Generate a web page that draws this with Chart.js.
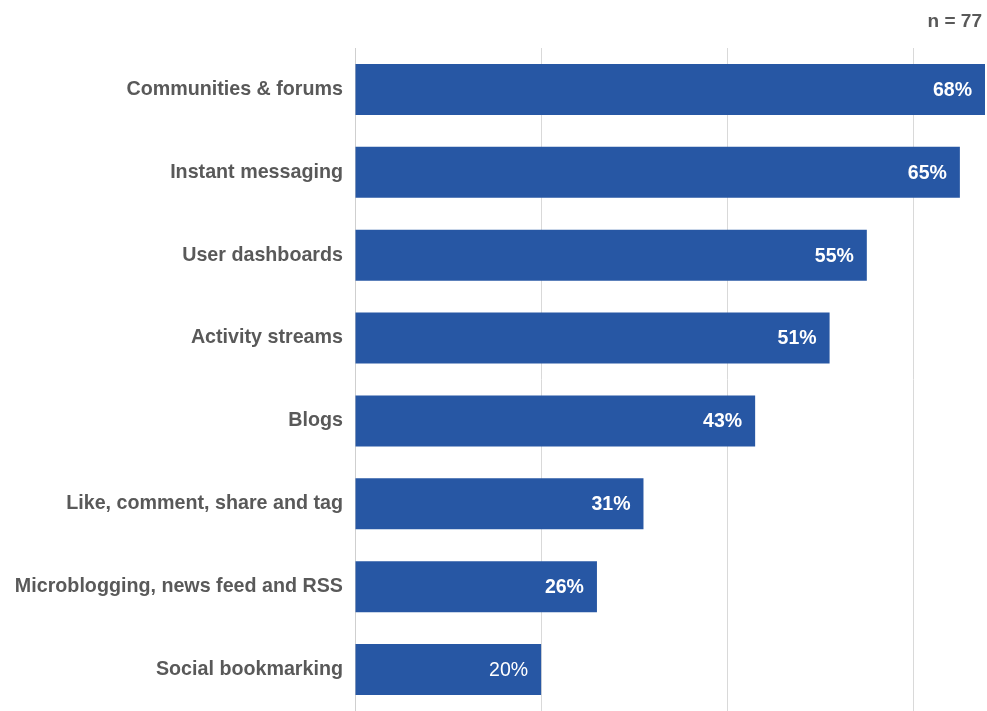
<!DOCTYPE html>
<html>
<head>
<meta charset="utf-8">
<script src="https://cdn.jsdelivr.net/npm/chart.js@4/dist/chart.umd.min.js"></script>
<style>
  html, body { margin: 0; padding: 0; background: #ffffff; }
  #wrap { width: 987px; height: 711px; position: relative; }
</style>
</head>
<body>
<div id="wrap"><canvas id="chart" width="987" height="711"></canvas></div>
<script>
// Share of respondents using each social feature (n = 77)
const categories = [
  'Communities & forums',
  'Instant messaging',
  'User dashboards',
  'Activity streams',
  'Blogs',
  'Like, comment, share and tag',
  'Microblogging, news feed and RSS',
  'Social bookmarking'
];
const shares = [68, 65, 55, 51, 43, 31, 26, 20];
const xTicks = [0, 20, 40, 60];
const sampleNote = 'n = 77';

const textGrey = '#595959';
const barBlue = '#2757a4';
const fontFamily = '"Liberation Sans", Arial, sans-serif';

// Value labels inside the right end of each bar, plus the sample-size note
const barLabels = {
  id: 'barLabels',
  afterDatasetsDraw(chart) {
    const ctx = chart.ctx;
    const area = chart.chartArea;
    const meta = chart.getDatasetMeta(0);
    ctx.save();
    ctx.fillStyle = '#ffffff';
    ctx.textAlign = 'right';
    ctx.textBaseline = 'middle';
    meta.data.forEach((bar, i) => {
      const weight = i === shares.length - 1 ? 'normal' : 'bold';
      ctx.font = weight + ' 19.5px ' + fontFamily;
      const end = Math.min(bar.x, area.right);
      ctx.fillText(shares[i] + '%', end - 13, bar.y + 1);
    });
    ctx.fillStyle = textGrey;
    ctx.font = 'bold 19px ' + fontFamily;
    ctx.fillText(sampleNote, 982, 22);
    ctx.restore();
  }
};

new Chart(document.getElementById('chart'), {
  type: 'bar',
  data: {
    labels: categories,
    datasets: [{
      data: shares,
      backgroundColor: barBlue,
      borderWidth: 0,
      categoryPercentage: 1,
      barPercentage: 0.615
    }]
  },
  options: {
    indexAxis: 'y',
    responsive: false,
    animation: false,
    devicePixelRatio: 1,
    layout: { padding: { top: 48, right: 2, bottom: 0, left: 0 } },
    plugins: {
      legend: { display: false },
      tooltip: { enabled: false }
    },
    scales: {
      x: {
        min: 0,
        max: 67.7,
        afterBuildTicks(scale) {
          scale.ticks = xTicks.map(v => ({ value: v }));
        },
        afterFit(scale) { scale.height = 0; },
        ticks: { display: false },
        grid: { color: '#d9d9d9', lineWidth: 1, drawTicks: false },
        border: { display: true, color: '#cfcfcf', width: 1 }
      },
      y: {
        afterFit(scale) {
          scale.width = 355;
          scale.paddingTop = 0;
          scale.paddingBottom = 0;
        },
        ticks: {
          color: textGrey,
          padding: 12,
          font: { family: fontFamily, size: 19.7, weight: 'bold' }
        },
        grid: { display: false, drawTicks: false },
        border: { display: true, color: '#cfcfcf', width: 1 }
      }
    }
  },
  plugins: [barLabels]
});
</script>
</body>
</html>
